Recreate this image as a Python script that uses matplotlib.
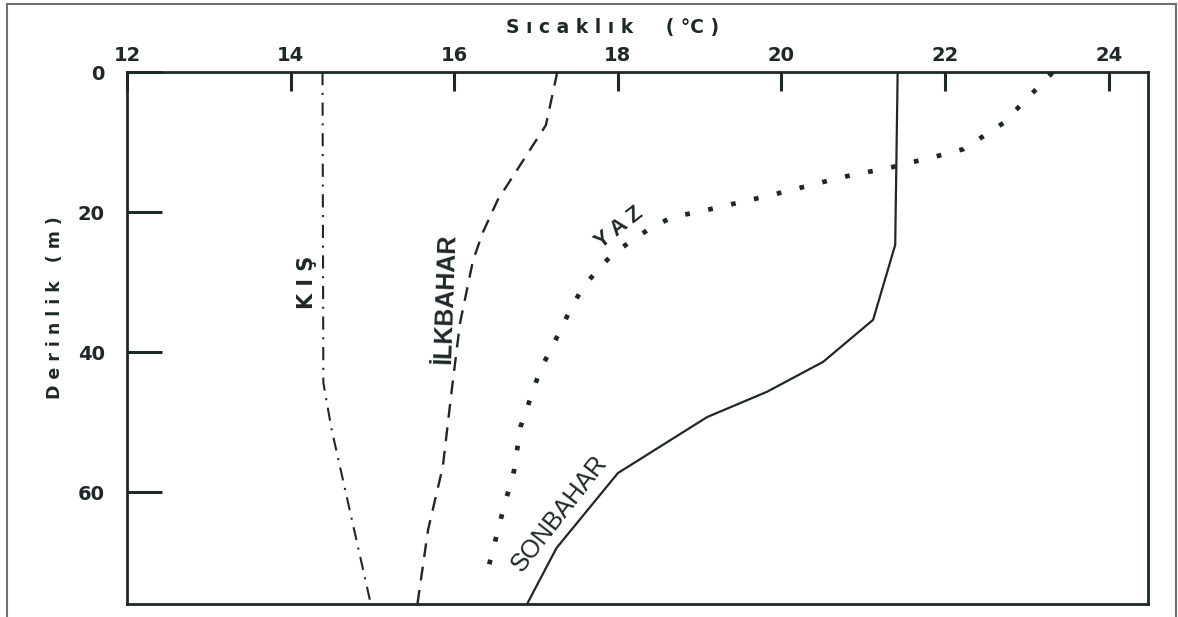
import matplotlib
matplotlib.use('Agg')
import matplotlib.pyplot as plt
from matplotlib.lines import Line2D

plt.rcParams['font.family'] = ['DejaVu Sans']
plt.rcParams['lines.scale_dashes'] = False

# sıcaklık (°C) - derinlik (m) profilleri
kis_t = [14.39, 14.40, 14.50, 14.98]
kis_d = [0, 44.4, 51, 76]

ilkbahar_t = [17.26, 17.12, 16.53, 16.35, 16.23, 16.07, 15.97, 15.86, 15.68, 15.55]
ilkbahar_d = [0, 7.6, 18.3, 22.9, 26.9, 35.9, 45.4, 56.4, 65.4, 76]

yaz_t = [23.31, 22.71, 22.23, 21.94, 21.35, 20.75, 19.87, 18.98, 18.67, 18.40,
         18.17, 17.94, 17.74, 17.57, 17.43, 17.32, 17.05, 16.81, 16.73, 16.59, 16.40]
yaz_d = [0.1, 7.3, 11, 11.9, 13.6, 15, 17.6, 20, 20.7, 22.3,
         24.1, 26, 28.4, 30.9, 33.6, 36.4, 42.6, 50.7, 57, 62.9, 71.6]

sonbahar_t = [21.42, 21.39, 21.12, 20.51, 19.82, 19.09, 18.0, 17.25, 16.89]
sonbahar_d = [0, 24.7, 35.4, 41.4, 45.7, 49.3, 57.3, 68, 76]

xticks = [12, 14, 16, 18, 20, 22, 24]
yticks = [0, 20, 40, 60]

c = '#1e2828'

fig = plt.figure(figsize=(11.78, 6.17), dpi=100)
ax = fig.add_axes([127 / 1178, 1 - 604 / 617, (1148 - 127) / 1178, (604 - 72) / 617])

ax.plot(kis_t, kis_d, color=c, lw=1.5, dashes=(9.5, 5.5, 1.5, 5.5))
ax.plot(ilkbahar_t, ilkbahar_d, color=c, lw=1.7, dashes=(10, 7))
ax.plot(yaz_t, yaz_d, color=c, lw=3.4, dashes=(3.4, 13.5), dash_capstyle='butt')
ax.plot(sonbahar_t, sonbahar_d, color=c, lw=1.6)

ax.set_xlim(12, 24.48)
ax.set_ylim(76, 0)
ax.xaxis.tick_top()
ax.set_xticks(xticks)
ax.set_yticks(yticks)
ax.tick_params(axis='x', direction='in', length=14, width=2.2, color=c, pad=5,
               labelsize=14, labelcolor=c)
ax.tick_params(axis='y', direction='in', length=25, width=2.2, color=c, pad=16,
               labelsize=14, labelcolor=c)
for lab in ax.get_xticklabels() + ax.get_yticklabels():
    lab.set_fontweight('bold')
for s in ax.spines.values():
    s.set_linewidth(2)
    s.set_color(c)

# eğri etiketleri
ax.text(14.2, 30.1, 'K I Ş', rotation=90, ha='center', va='center',
        fontsize=15, fontweight='bold', color=c)
ax.text(15.89, 32.4, 'İLKBAHAR', rotation=88, ha='center', va='center',
        fontsize=18, fontweight='bold', color=c, family='Liberation Sans')
ax.text(18.02, 22.3, 'Y A Z', rotation=38, ha='center', va='center',
        fontsize=16, fontweight='bold', color=c, family='Liberation Sans')
ax.text(17.29, 63, 'SONBAHAR', rotation=52, ha='center', va='center',
        fontsize=18, color=c, family='Liberation Sans')

fig.text(613 / 1178, 1 - 27 / 617, 'S ı c a k l ı k     ( °C )', ha='center', va='center',
         fontsize=13.5, fontweight='bold', color=c)
fig.text(55 / 1178, 1 - 308 / 617, 'D e r i n l i k   ( m )', rotation=90,
         ha='center', va='center', fontsize=12.5, fontweight='bold', color=c)

# dış çerçeve
g = '#707070'
x0, x1, y0 = 7 / 1178, 1176 / 1178, 1 - 4 / 617
fig.add_artist(Line2D([x0, x0], [0, y0], color=g, lw=1.5, transform=fig.transFigure))
fig.add_artist(Line2D([x0, x1], [y0, y0], color=g, lw=1.5, transform=fig.transFigure))
fig.add_artist(Line2D([x1, x1], [0, y0], color=g, lw=1.5, transform=fig.transFigure))

fig.savefig('out.png', dpi=100)
